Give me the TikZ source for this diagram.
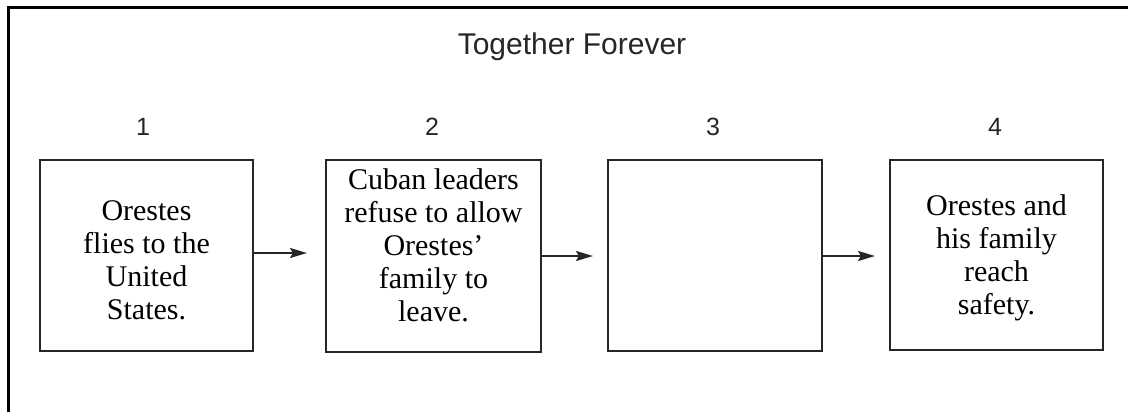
\documentclass[tikz,border=0pt]{standalone}
\usepackage{fontspec}
\setmainfont{Liberation Serif}
\newfontfamily\headfont{Liberation Sans}
\usetikzlibrary{arrows.meta}
\tikzset{
  stepbox/.style={draw=black!85, line width=2.6bp, minimum width=#1, inner sep=0pt},
  boxtext/.style={align=center, font=\fontsize{30bp}{33bp}\selectfont, inner sep=0pt},
  numlabel/.style={font=\headfont\fontsize{25bp}{30bp}\selectfont, text=black!85, inner sep=0pt},
  flow/.style={draw=black!85, line width=2.2bp, -{Stealth[length=17bp,width=10bp,inset=3bp]}},
  frame/.style={line width=3bp, black}
}
\begin{document}
\begin{tikzpicture}[x=1bp,y=-1bp]
\useasboundingbox (0,0) rectangle (1128,412);
% frame
\coordinate (fl) at (8,412);
\coordinate (fc) at (8,7);
\coordinate (fr) at (1128,7);
\draw[frame] (fl) -- (fc) -- (fr);
% title
\node[font=\headfont\fontsize{30bp}{34bp}\selectfont, text=black!85, anchor=base, inner sep=0pt] (title) at (572,54) {Together Forever};
% numbers
\node[numlabel] (n1) at (143,127) {1};
\node[numlabel] (n2) at (432,127) {2};
\node[numlabel] (n3) at (713,127) {3};
\node[numlabel] (n4) at (995,127) {4};
% boxes
\node[stepbox=213bp, minimum height=191bp] (b1) at (146.5,255.5) {};
\node[stepbox=215bp, minimum height=192bp] (b2) at (433.5,256) {};
\node[stepbox=214bp, minimum height=191bp] (b3) at (715,255.5) {};
\node[stepbox=213bp, minimum height=190bp] (b4) at (996.5,255) {};
% texts
\node[boxtext] (t1) at (146.5,260) {Orestes\\flies to the\\United\\States.};
\node[boxtext] (t2) at (433.5,245) {Cuban leaders\\refuse to allow\\Orestes’\\family to\\leave.};
\node[boxtext] (t4) at (996.5,258) {Orestes and\\his family\\reach\\safety.};
% arrows
\coordinate (a1) at (307,253);
\coordinate (a2) at (593,256);
\coordinate (a3) at (875,256);
\draw[flow] (b1.east |- a1) -- (a1);
\draw[flow] (b2.east |- a2) -- (a2);
\draw[flow] (b3.east |- a3) -- (a3);
\end{tikzpicture}
\end{document}
